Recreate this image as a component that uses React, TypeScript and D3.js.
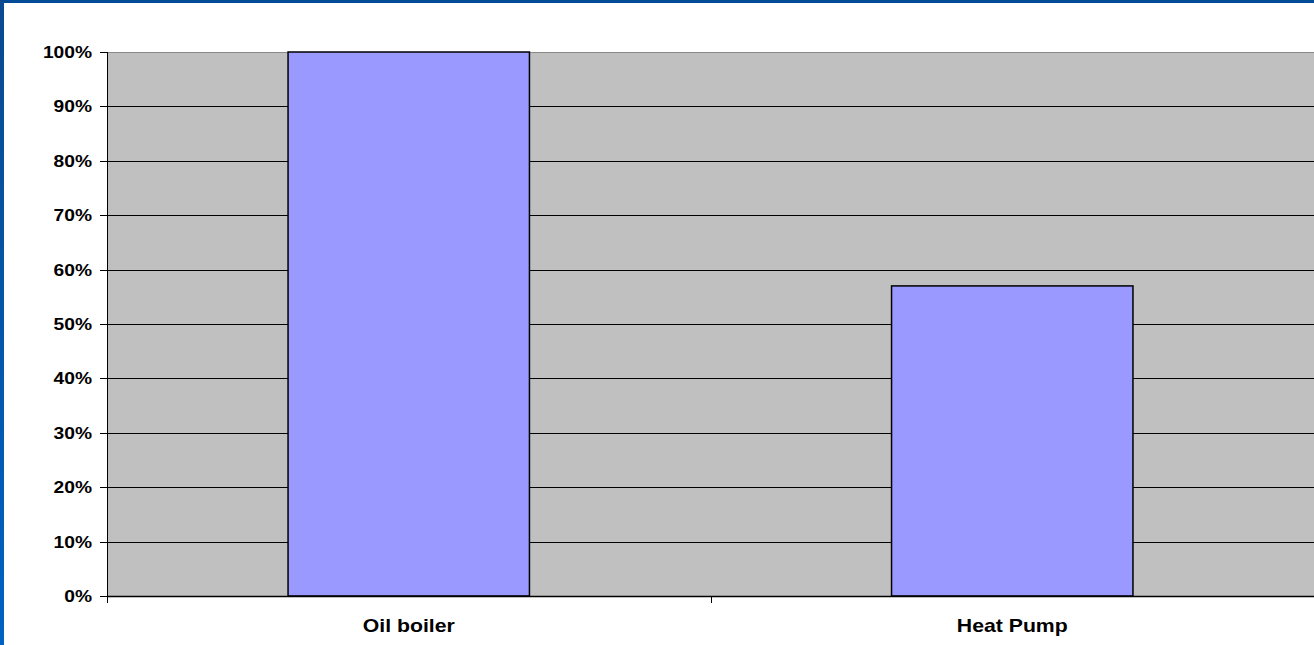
import React from "react";
import * as d3 from "d3";

const categories = ["Oil boiler", "Heat Pump"];
const values = [1.0, 0.57];
const yTicks = [0, 0.1, 0.2, 0.3, 0.4, 0.5, 0.6, 0.7, 0.8, 0.9, 1.0];

const W = 1314;
const H = 645;
const plot = { left: 107, right: 1314, top: 52, bottom: 596 };
const FONT = "'Liberation Sans', Arial, Helvetica, sans-serif";

export default function App() {
  const x = d3
    .scaleBand<string>()
    .domain(categories)
    .range([plot.left, plot.right])
    .padding(0);
  const y = d3.scaleLinear().domain([0, 1]).range([plot.bottom, plot.top]);
  const fmt = d3.format(".0%");
  const barW = x.bandwidth() * 0.4;
  // category divider ticks: at the axis origin and between categories
  const catTicks = [plot.left, ...categories.slice(1).map((c) => x(c) as number)];

  return (
    <div style={{ position: "fixed", left: 0, top: 0, width: W, height: H }}>
      <svg width={W} height={H} style={{ display: "block" }}>
        <defs>
          <linearGradient id="frameLeft" x1="0" y1="0" x2="0" y2="1">
            <stop offset="0" stopColor="#0a4a90" />
            <stop offset="1" stopColor="#0062c2" />
          </linearGradient>
        </defs>
        <rect x={0} y={0} width={W} height={H} fill="#ffffff" />
        {/* frame */}
        <rect x={0} y={0} width={W} height={3} fill="#004c96" />
        <rect x={0} y={0} width={4} height={H} fill="url(#frameLeft)" />

        {/* plot area */}
        <rect
          x={plot.left}
          y={plot.top}
          width={plot.right - plot.left}
          height={plot.bottom - plot.top}
          fill="#c0c0c0"
        />
        <line
          x1={plot.left}
          x2={plot.right}
          y1={plot.top + 0.5}
          y2={plot.top + 0.5}
          stroke="#8a8a8a"
          strokeWidth={1}
        />
        {yTicks
          .filter((t) => t > 0 && t < 1)
          .map((t) => (
            <line
              key={t}
              x1={plot.left}
              x2={plot.right}
              y1={Math.round(y(t)) + 0.5}
              y2={Math.round(y(t)) + 0.5}
              stroke="#000"
              strokeWidth={1}
            />
          ))}

        {/* bars */}
        {categories.map((c, i) => {
          const bx = (x(c) as number) + (x.bandwidth() - barW) / 2;
          return (
            <rect
              key={c}
              x={bx}
              y={y(values[i])}
              width={barW}
              height={plot.bottom - y(values[i])}
              fill="#9999ff"
              stroke="#000"
              strokeWidth={1.5}
            />
          );
        })}

        {/* axes */}
        <line
          x1={plot.left + 0.5}
          x2={plot.left + 0.5}
          y1={plot.top}
          y2={plot.bottom + 7}
          stroke="#000"
          strokeWidth={1}
        />
        <line
          x1={plot.left}
          x2={plot.right}
          y1={plot.bottom + 0.5}
          y2={plot.bottom + 0.5}
          stroke="#000"
          strokeWidth={1.5}
        />
        {yTicks.map((t) => (
          <g key={t}>
            <line
              x1={plot.left - 7}
              x2={plot.left}
              y1={Math.round(y(t)) + 0.5}
              y2={Math.round(y(t)) + 0.5}
              stroke="#000"
            />
            <text
              transform={`translate(92,${y(t) + 6}) scale(1.2,1)`}
              textAnchor="end"
              fontFamily={FONT}
              fontWeight="bold"
              fontSize={16}
              fill="#000"
            >
              {fmt(t)}
            </text>
          </g>
        ))}
        {catTicks.map((cx, i) => (
          <line
            key={i}
            x1={Math.round(cx) + 0.5}
            x2={Math.round(cx) + 0.5}
            y1={plot.bottom}
            y2={plot.bottom + 7}
            stroke="#000"
          />
        ))}
        {categories.map((c) => (
          <text
            key={c}
            transform={`translate(${(x(c) as number) + x.bandwidth() / 2},632) scale(1.18,1)`}
            textAnchor="middle"
            fontFamily={FONT}
            fontWeight="bold"
            fontSize={18}
            fill="#000"
          >
            {c}
          </text>
        ))}
      </svg>
    </div>
  );
}
